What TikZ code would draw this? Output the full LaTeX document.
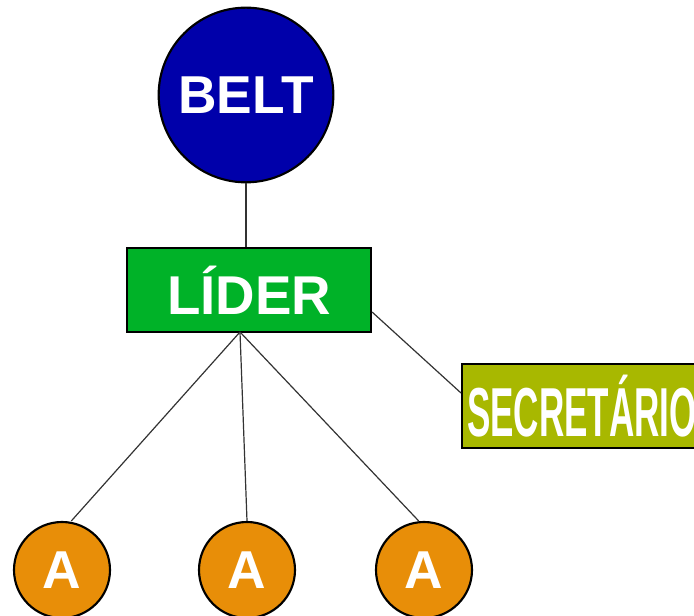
\documentclass[tikz,border=0pt]{standalone}
\usepackage{fontspec}
\setmainfont{Liberation Sans}
\usetikzlibrary{positioning}

\definecolor{beltblue}{RGB}{0,0,170}
\definecolor{lidergreen}{RGB}{0,178,40}
\definecolor{secgreen}{RGB}{168,184,0}
\definecolor{aorange}{RGB}{232,142,8}

\begin{document}
\begin{tikzpicture}[x=0.75pt, y=-0.75pt,
    boxline/.style={draw=black, line width=1.6pt},
    link/.style={draw=black!80, line width=0.9pt},
    member/.style={circle, boxline, fill=aorange, text=white, minimum size=72pt, inner sep=0pt, font=\fontsize{40}{40}\selectfont\bfseries}]
\useasboundingbox (0,0) rectangle (694,616);

\node[circle, boxline, fill=beltblue, text=white, minimum size=131pt, inner sep=0pt, font=\fontsize{40}{40}\selectfont\bfseries] (belt) at (246,95) {BELT};
\node[rectangle, boxline, fill=lidergreen, text=white, minimum width=183pt, minimum height=63pt, font=\fontsize{41}{41}\selectfont\bfseries] (lider) at (249,290) {LÍDER};
\node[rectangle, boxline, fill=secgreen, text=white, anchor=west, minimum width=180pt, minimum height=63pt, inner xsep=1.5pt, align=left, font=\fontsize{52}{52}\selectfont\bfseries] (sec) at (461,406) {\scalebox{0.505}[1]{SECRETÁRIO}\hfill};

\node[member] (a1) at (62,570) {A};
\node[member] (a2) at (247,570) {A};
\node[member] (a3) at (424,570) {A};

\coordinate (split) at (240,332);

\draw[link] (belt) -- (lider.north -| belt);
\draw[link] ([yshift=-16.5pt]lider.east) -- ([yshift=9.75pt]sec.west);
\draw[link] (split) -- ([xshift=7pt]a1.north);
\draw[link] (split) -- (a2.north);
\draw[link] (split) -- ([xshift=-4pt]a3.north);

\end{tikzpicture}
\end{document}
